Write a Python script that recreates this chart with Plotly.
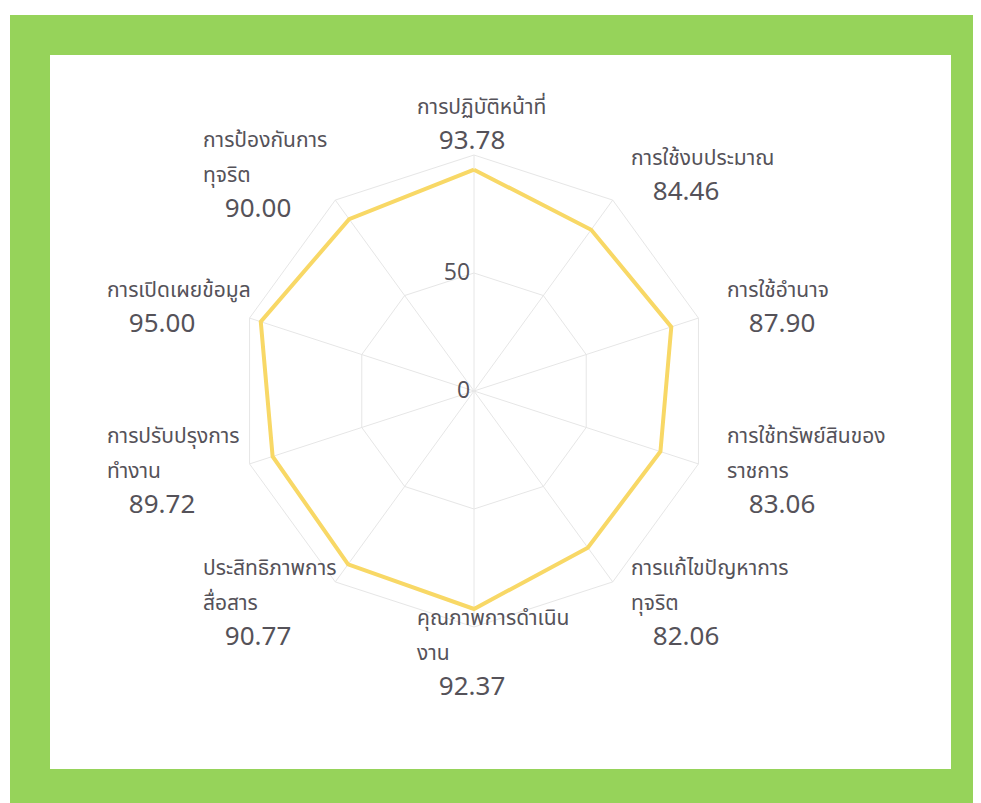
import math
import plotly.graph_objects as go

# ---- data ----
categories = [
    "การปฏิบัติหน้าที่",
    "การใช้งบประมาณ",
    "การใช้อำนาจ",
    "การใช้ทรัพย์สินของราชการ",
    "การแก้ไขปัญหาการทุจริต",
    "คุณภาพการดำเนินงาน",
    "ประสิทธิภาพการสื่อสาร",
    "การปรับปรุงการทำงาน",
    "การเปิดเผยข้อมูล",
    "การป้องกันการทุจริต",
]
label_lines = [
    ["การปฏิบัติหน้าที่"],
    ["การใช้งบประมาณ"],
    ["การใช้อำนาจ"],
    ["การใช้ทรัพย์สินของ", "ราชการ"],
    ["การแก้ไขปัญหาการ", "ทุจริต"],
    ["คุณภาพการดำเนิน", "งาน"],
    ["ประสิทธิภาพการ", "สื่อสาร"],
    ["การปรับปรุงการ", "ทำงาน"],
    ["การเปิดเผยข้อมูล"],
    ["การป้องกันการ", "ทุจริต"],
]
scores = [93.78, 84.46, 87.90, 83.06, 82.06, 92.37, 90.77, 89.72, 95.00, 90.00]
radial_ticks = [0, 50, 100]
radial_ticktext = ["0", "50", ""]

THAI = "'Noto Sans Thai', 'Noto Sans Thai UI', Tahoma, 'Noto Sans', sans-serif"
NUM = "'Open Sans', sans-serif"
TEXT_COLOR = "#555259"

# ---- geometry of the layout (pixels) ----
W, H = 973, 795
CX, CY, R = 466, 383, 236
LABEL_GAP = 28      # distance of point labels beyond the outer ring
LABEL_BOX = 118     # nominal label width used for anchoring

def px(x):
    return x / W

def py(y):
    return (H - y) / H

theta = categories + [categories[0]]
r = scores + [scores[0]]

fig = go.Figure()
fig.add_trace(go.Scatterpolar(
    r=r, theta=theta, mode="lines",
    line=dict(color="#F8D866", width=4),
    hoverinfo="skip", showlegend=False,
))

# point labels (category name + score), placed around the outer ring
annotations = []
n = len(categories)
for i, (lines, v) in enumerate(zip(label_lines, scores)):
    a = 2 * math.pi * i / n
    s, c = math.sin(a), math.cos(a)
    ax = CX + (R + LABEL_GAP) * s
    ay = CY - (R + LABEL_GAP) * c
    if s > 0.1:
        left = ax
    elif s < -0.1:
        left = ax - LABEL_BOX
    else:
        left = ax - LABEL_BOX / 2
    parts = [f"<span style='font-size:21px'>{l}</span>" for l in lines]
    parts.append(
        "<span style='font-size:21px'>&nbsp;&nbsp;&nbsp;&nbsp;</span>"
        f"<span style='font-size:26px;font-family:{NUM}'>{v:.2f}</span>")
    annotations.append(dict(
        x=px(left), y=py(ay), xref="paper", yref="paper",
        xanchor="left", yanchor="middle", align="left",
        text="<br>".join(parts), showarrow=False,
        font=dict(size=27, family=THAI, color=TEXT_COLOR),
    ))

fig.update_layout(
    width=W, height=H,
    margin=dict(l=0, r=0, t=0, b=0),
    paper_bgcolor="white",
    font=dict(family=THAI, color=TEXT_COLOR),
    shapes=[
        dict(type="rect", xref="paper", yref="paper", layer="below",
             x0=px(2), x1=1.0, y0=0.0, y1=py(7),
             fillcolor="#96D35A", line=dict(width=0)),
        dict(type="rect", xref="paper", yref="paper", layer="below",
             x0=px(42), x1=px(943), y0=py(761), y1=py(47),
             fillcolor="white", line=dict(width=0)),
    ],
    annotations=annotations,
    polar=dict(
        domain=dict(x=[px(CX - R), px(CX + R)], y=[py(CY + R), py(CY - R)]),
        bgcolor="rgba(0,0,0,0)",
        gridshape="linear",
        radialaxis=dict(
            range=[0, 100], tickvals=radial_ticks, ticktext=radial_ticktext,
            angle=90, tickangle=90, side="counterclockwise",
            showline=False, ticks="",
            gridcolor="#E6E6E6", gridwidth=1,
            tickfont=dict(size=23, color=TEXT_COLOR, family=NUM),
        ),
        angularaxis=dict(
            direction="clockwise", rotation=90,
            tickvals=categories, showticklabels=False,
            showline=True, linecolor="#E6E6E6", linewidth=1,
            gridcolor="#E6E6E6", gridwidth=1, ticks="",
        ),
    ),
)

fig.write_html("out.html")
